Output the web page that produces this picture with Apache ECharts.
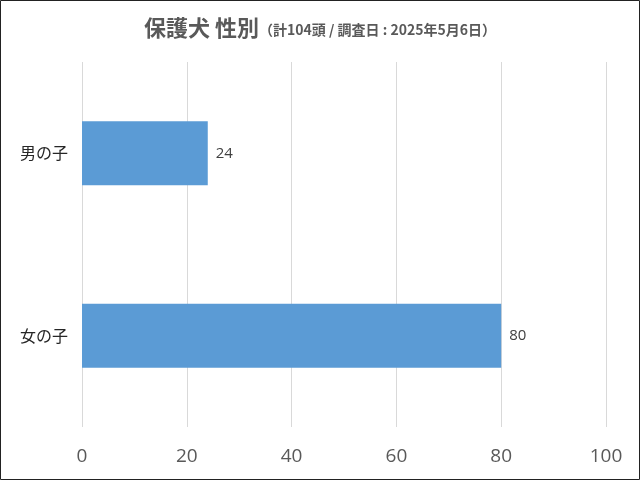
<!DOCTYPE html><html><head><meta charset="utf-8"><script src="https://cdn.jsdelivr.net/npm/echarts@6/dist/echarts.min.js"></script>
<style>html,body{margin:0;padding:0;background:#fff}#c{width:640px;height:480px}</style></head><body><div id="c"></div><script>
const categories=['女の子','男の子'];
const values=[80,24];
const title='保護犬 性別';
const subtitle='（計104頭 / 調査日 : 2025年5月6日）';
const F='"Noto Sans CJK JP","Noto Sans",sans-serif';
const ch=echarts.init(document.getElementById('c'));
ch.setOption({
 animation:false,
 title:{text:'{a|'+title+'}{b|'+subtitle+'}',left:'center',top:12,textStyle:{rich:{a:{fontSize:22,color:'#595959',fontFamily:F},b:{fontSize:14,color:'#595959',fontFamily:F,padding:[4,0,0,0]}}}},
 graphic:[{type:'rect',shape:{x:0.5,y:0.5,width:639,height:479},style:{fill:'none',stroke:'#222',lineWidth:1}}],
 grid:{left:82,right:34,top:62,bottom:53,containLabel:false},
 xAxis:{type:'value',min:0,max:100,interval:20,axisLine:{show:false},axisTick:{show:false},
  splitLine:{lineStyle:{color:'#d9d9d9'}},axisLabel:{fontSize:19,color:'#595959',margin:20,fontFamily:'"Open Sans",sans-serif'}},
 yAxis:{type:'category',data:categories,axisLine:{show:false},axisTick:{show:false},
  axisLabel:{fontSize:16,color:'#262626',margin:14,fontFamily:F}},
 series:[{type:'bar',data:values,barWidth:64,itemStyle:{color:'#5b9bd5'},
  label:{show:true,position:'right',distance:8,fontSize:15,color:'#404040',fontFamily:'"Open Sans",sans-serif'}}]
});
</script></body></html>
